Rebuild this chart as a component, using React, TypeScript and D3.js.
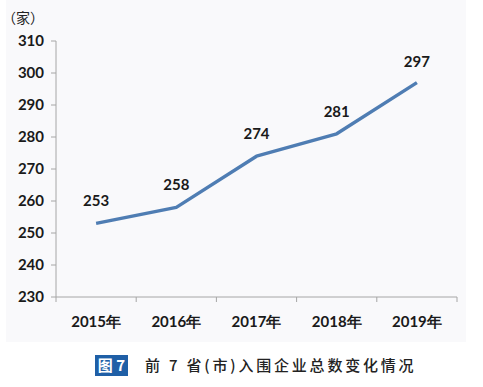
import React from "react";
import * as d3 from "d3";

const categories = ["2015年", "2016年", "2017年", "2018年", "2019年"];
const values = [253, 258, 274, 281, 297];
const yTicks = [230, 240, 250, 260, 270, 280, 290, 300, 310];
const unitLabel = "（家）";
const captionTag = "图 7";
const captionText = "前 7 省(市)入围企业总数变化情况";

export default function App() {
  const W = 483, H = 387;
  const left = 56, right = 457, top = 41, bottom = 297;
  const x = d3.scaleBand<string>().domain(categories).range([left, right]);
  const y = d3.scaleLinear().domain([230, 310]).range([bottom, top]);
  const line = d3
    .line<number>()
    .x((_, i) => (x(categories[i]) as number) + x.bandwidth() / 2)
    .y((d) => y(d));
  const font = "Lato, 'Open Sans', 'DejaVu Sans', sans-serif";
  const axisColor = "#a6a6a6";
  const xTickPos = [...categories.map((c) => x(c) as number), right];
  return (
    <svg
      width={W}
      height={H}
      style={{ position: "absolute", left: 0, top: 0, display: "block" }}
    >
      <rect x={0} y={0} width={W} height={H} fill="#ffffff" />
      <rect x={6} y={0} width={460} height={342} fill="#f9f9fb" />
      <text x={2} y={23} fontFamily="'Noto Sans CJK SC', sans-serif" fontSize={14} fill="#222">
        {unitLabel}
      </text>
      {/* y axis */}
      <line x1={left} x2={left} y1={top} y2={bottom} stroke={axisColor} strokeWidth={1} />
      {yTicks.map((t) => (
        <g key={t}>
          <line x1={left - 5} x2={left} y1={y(t)} y2={y(t)} stroke={axisColor} />
          <text
            x={left - 12}
            y={y(t)}
            dy="0.35em"
            textAnchor="end"
            fontFamily={font}
            fontWeight="bold"
            fontSize={15}
            fill="#1a1a1a"
          >
            {t}
          </text>
        </g>
      ))}
      {/* x axis */}
      <line x1={left} x2={right} y1={bottom} y2={bottom} stroke={axisColor} />
      {xTickPos.map((p, i) => (
        <line key={i} x1={p} x2={p} y1={bottom} y2={bottom + 5} stroke={axisColor} />
      ))}
      {categories.map((c) => (
        <text
          key={c}
          x={(x(c) as number) + x.bandwidth() / 2}
          y={327}
          textAnchor="middle"
          fontFamily={font}
          fontWeight="bold"
          fontSize={15}
          fill="#1a1a1a"
        >
          {c}
        </text>
      ))}
      <path d={line(values) || ""} fill="none" stroke="#4f7db3" strokeWidth={3.4} strokeLinejoin="round" />
      {values.map((v, i) => (
        <text
          key={i}
          x={(x(categories[i]) as number) + x.bandwidth() / 2}
          y={y(v) - (i === 4 ? 16 : 17)}
          textAnchor="middle"
          fontFamily={font}
          fontWeight="bold"
          fontSize={15}
          fill="#1a1a1a"
        >
          {v}
        </text>
      ))}
      {/* caption */}
      <rect x={95} y={355} width={33} height={21} fill="#1f5fa6" />
      <text
        x={111.5}
        y={371}
        textAnchor="middle"
        fontFamily="'Noto Sans CJK SC', sans-serif"
        fontWeight="bold"
        fontSize={15}
        fill="#ffffff"
      >
        {captionTag}
      </text>
      <text
        x={145}
        y={371}
        fontFamily="'Noto Sans CJK SC', sans-serif"
        fontWeight={500}
        fontSize={15}
        letterSpacing={2.8}
        fill="#222"
      >
        {captionText}
      </text>
    </svg>
  );
}
